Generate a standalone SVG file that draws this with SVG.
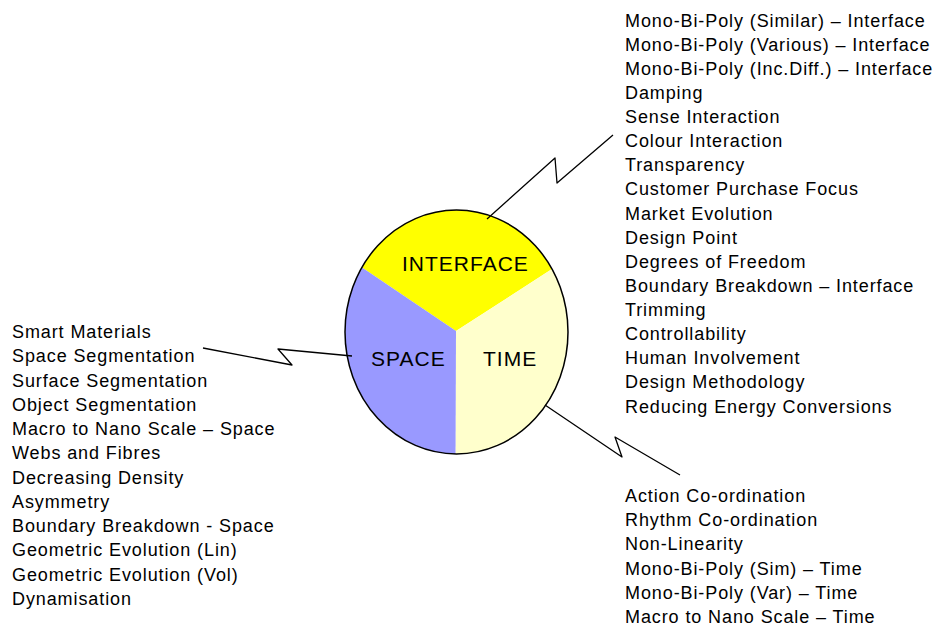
<svg xmlns="http://www.w3.org/2000/svg" width="935" height="626" viewBox="0 0 935 626">
<style>
.t{font-family:"Liberation Sans",Arial,sans-serif;font-size:18px;letter-spacing:0.9px;fill:#000}
.lbl{font-family:"Liberation Sans",Arial,sans-serif;font-size:21px;letter-spacing:1px;fill:#000}
.con{fill:none;stroke:#000;stroke-width:1.3;stroke-linejoin:round}
</style>
<rect width="935" height="626" fill="#fff"/>
<g id="circle">
<g id="interface">
<path d="M456 331 L362 267.5 A111.5 122 0 0 1 552 269 Z" fill="#ffff00"/>
<text class="lbl" x="402" y="271">INTERFACE</text>
</g>
<g id="time">
<path d="M456 331 L552 269 A111.5 122 0 0 1 455.5 454 Z" fill="#ffffcc"/>
<text class="lbl" x="483" y="366">TIME</text>
</g>
<g id="space">
<path d="M456 331 L455.5 454 A111.5 122 0 0 1 362 267.5 Z" fill="#9999ff"/>
<text class="lbl" x="371" y="366">SPACE</text>
</g>
<ellipse cx="456.5" cy="332" rx="111.5" ry="122" fill="none" stroke="#000" stroke-width="1.5"/>
</g>
<g id="connectors">
<polyline class="con" points="487,219 555,158 557,183 613,135"/>
<polyline class="con" points="203,348 292,365 278,349 352,356"/>
<polyline class="con" points="545,405 622,457 615,437 680,475"/>
</g>
<g id="interface-list">
<text class="t" x="625" y="26.5">
<tspan x="625" dy="0">Mono-Bi-Poly (Similar) – Interface</tspan>
<tspan x="625" dy="24.125">Mono-Bi-Poly (Various) – Interface</tspan>
<tspan x="625" dy="24.125">Mono-Bi-Poly (Inc.Diff.) – Interface</tspan>
<tspan x="625" dy="24.125">Damping</tspan>
<tspan x="625" dy="24.125">Sense Interaction</tspan>
<tspan x="625" dy="24.125">Colour Interaction</tspan>
<tspan x="625" dy="24.125">Transparency</tspan>
<tspan x="625" dy="24.125">Customer Purchase Focus</tspan>
<tspan x="625" dy="24.125">Market Evolution</tspan>
<tspan x="625" dy="24.125">Design Point</tspan>
<tspan x="625" dy="24.125">Degrees of Freedom</tspan>
<tspan x="625" dy="24.125">Boundary Breakdown – Interface</tspan>
<tspan x="625" dy="24.125">Trimming</tspan>
<tspan x="625" dy="24.125">Controllability</tspan>
<tspan x="625" dy="24.125">Human Involvement</tspan>
<tspan x="625" dy="24.125">Design Methodology</tspan>
<tspan x="625" dy="24.125">Reducing Energy Conversions</tspan>
</text>
</g>
<g id="space-list">
<text class="t" x="12" y="338">
<tspan x="12" dy="0">Smart Materials</tspan>
<tspan x="12" dy="24.27">Space Segmentation</tspan>
<tspan x="12" dy="24.27">Surface Segmentation</tspan>
<tspan x="12" dy="24.27">Object Segmentation</tspan>
<tspan x="12" dy="24.27">Macro to Nano Scale – Space</tspan>
<tspan x="12" dy="24.27">Webs and Fibres</tspan>
<tspan x="12" dy="24.27">Decreasing Density</tspan>
<tspan x="12" dy="24.27">Asymmetry</tspan>
<tspan x="12" dy="24.27">Boundary Breakdown - Space</tspan>
<tspan x="12" dy="24.27">Geometric Evolution (Lin)</tspan>
<tspan x="12" dy="24.27">Geometric Evolution (Vol)</tspan>
<tspan x="12" dy="24.27">Dynamisation</tspan>
</text>
</g>
<g id="time-list">
<text class="t" x="625" y="502">
<tspan x="625" dy="0">Action Co-ordination</tspan>
<tspan x="625" dy="24.2">Rhythm Co-ordination</tspan>
<tspan x="625" dy="24.2">Non-Linearity</tspan>
<tspan x="625" dy="24.2">Mono-Bi-Poly (Sim) – Time</tspan>
<tspan x="625" dy="24.2">Mono-Bi-Poly (Var) – Time</tspan>
<tspan x="625" dy="24.2">Macro to Nano Scale – Time</tspan>
</text>
</g>
</svg>
